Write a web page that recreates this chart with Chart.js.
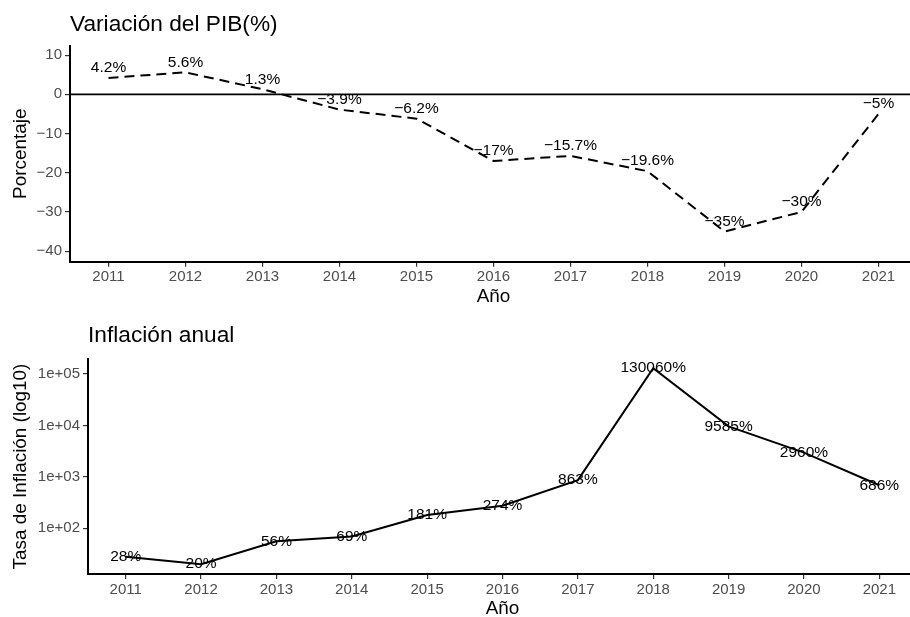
<!DOCTYPE html>
<html>
<head>
<meta charset="utf-8">
<script src="https://cdn.jsdelivr.net/npm/chart.js@4.4.1/dist/chart.umd.min.js"></script>
<style>
  html, body { margin: 0; padding: 0; background: #fff; width: 910px; height: 617px; overflow: hidden; }
  .panel { position: absolute; left: 0; width: 918px; }
  #pib-wrap { top: 0; height: 308px; }
  #inf-wrap { top: 308px; height: 312px; }
</style>
</head>
<body>
<div class="panel" id="pib-wrap"><canvas id="pib" width="918" height="308"></canvas></div>
<div class="panel" id="inf-wrap"><canvas id="inf" width="918" height="312"></canvas></div>
<script>
// Data
const years = ['2011', '2012', '2013', '2014', '2015', '2016', '2017', '2018', '2019', '2020', '2021']
const pibValues = [4.2, 5.6, 1.3, -3.9, -6.2, -17, -15.7, -19.6, -35, -30, -5]
const pibLabels = ['4.2%', '5.6%', '1.3%', '\u22123.9%', '\u22126.2%', '\u221217%', '\u221215.7%', '\u221219.6%', '\u221235%', '\u221230%', '\u22125%']
const pibTicks = [-40, -30, -20, -10, 0, 10]
const inflValues = [28, 20, 56, 69, 181, 274, 863, 130060, 9585, 2960, 686]
const inflLabels = ['28%', '20%', '56%', '69%', '181%', '274%', '863%', '130060%', '9585%', '2960%', '686%']
const inflTicks = [100, 1000, 10000, 100000]
const inflTickLabels = ['1e+02', '1e+03', '1e+04', '1e+05']

const FONT = '"Liberation Sans", Arial, Helvetica, sans-serif'

// text next to each point, placed from the dataset's own elements
const pointLabels = {
    id: 'pointLabels',
    afterDatasetsDraw(chart, args, opts) {
        const { ctx } = chart
        const meta = chart.getDatasetMeta(0)
        ctx.save()
        ctx.font = '15.5px ' + FONT
        ctx.fillStyle = '#000'
        ctx.textAlign = 'center'
        ctx.textBaseline = 'middle'
        meta.data.forEach((pt, i) => ctx.fillText(opts.labels[i], pt.x, pt.y - opts.dy))
        ctx.restore()
    }
}

// horizontal reference line at y = 0
const zeroLine = {
    id: 'zeroLine',
    beforeDatasetsDraw(chart, args, opts) {
        if (!opts.show) return
        const { ctx, chartArea } = chart
        const y = chart.scales.y.getPixelForValue(0)
        ctx.save()
        ctx.strokeStyle = '#000'
        ctx.lineWidth = 1.7
        ctx.beginPath()
        ctx.moveTo(chartArea.left, y)
        ctx.lineTo(chartArea.right, y)
        ctx.stroke()
        ctx.restore()
    }
}

function xScale(axisHeight) {
    return {
        type: 'category',
        offset: true,
        grid: { display: true, drawOnChartArea: false, drawTicks: true, tickLength: 5, color: '#333', lineWidth: 1.2 },
        border: { display: true, color: '#000', width: 2 },
        ticks: { color: '#4d4d4d', font: { family: FONT, size: 15 }, padding: 1.5, maxRotation: 0, autoSkip: false },
        title: { display: true, text: 'Año', color: '#000', font: { family: FONT, size: 18.9 }, padding: { top: 0, bottom: 0 } },
        afterFit: (s) => { s.height = axisHeight }
    }
}

function yScaleBase(axisWidth, titleText) {
    return {
        grid: { display: true, drawOnChartArea: false, drawTicks: true, tickLength: 5, color: '#333', lineWidth: 1.2 },
        border: { display: true, color: '#000', width: 2 },
        title: { display: true, text: titleText, color: '#000', font: { family: FONT, size: 18.9 }, padding: { top: 9.5, bottom: 0 } },
        afterFit: (s) => { s.width = axisWidth }
    }
}

function titleOpts(text, padTop, padBottom) {
    return {
        display: true, text: text, align: 'start', fullSize: false, color: '#000',
        font: { family: FONT, size: 22.7, weight: 'normal' },
        padding: { top: padTop, bottom: padBottom }
    }
}

// Top: PIB
new Chart(document.getElementById('pib'), {
    type: 'line',
    data: {
        labels: years,
        datasets: [{
            data: pibValues,
            borderColor: '#000',
            borderWidth: 2,
            borderDash: [10, 6],
            pointRadius: 0,
            tension: 0,
            fill: false
        }]
    },
    options: {
        responsive: false,
        animation: false,
        layout: { padding: { left: 0, right: 1, top: 0, bottom: 0 } },
        plugins: {
            legend: { display: false },
            tooltip: { enabled: false },
            title: titleOpts('Variación del PIB(%)', 11, 7.5),
            pointLabels: { labels: pibLabels, dy: 10 },
            zeroLine: { show: true }
        },
        scales: {
            x: xScale(46.3),
            y: {
                ...yScaleBase(70, 'Porcentaje'),
                type: 'linear',
                min: -42.7,
                max: 12.4,
                afterBuildTicks: (s) => { s.ticks = pibTicks.map(v => ({ value: v })) },
                ticks: {
                    color: '#4d4d4d', font: { family: FONT, size: 15 }, padding: 3,
                    callback: (v) => String(v).replace('-', '\u2212')
                }
            }
        }
    },
    plugins: [pointLabels, zeroLine]
})

// Bottom: inflation (log scale)
new Chart(document.getElementById('inf'), {
    type: 'line',
    data: {
        labels: years,
        datasets: [{
            data: inflValues,
            borderColor: '#000',
            borderWidth: 2,
            pointRadius: 0,
            tension: 0,
            fill: false
        }]
    },
    options: {
        responsive: false,
        animation: false,
        layout: { padding: { left: 0, right: 1, top: 0, bottom: 0 } },
        plugins: {
            legend: { display: false },
            tooltip: { enabled: false },
            title: titleOpts('Inflación anual', 14.4, 9.4),
            pointLabels: { labels: inflLabels, dy: 0 },
            zeroLine: { show: false }
        },
        scales: {
            x: xScale(46),
            y: {
                ...yScaleBase(88, 'Tasa de Inflación (log10)'),
                type: 'logarithmic',
                min: 12.9,
                max: 195800,
                afterBuildTicks: (s) => { s.ticks = inflTicks.map(v => ({ value: v })) },
                ticks: {
                    color: '#4d4d4d', font: { family: FONT, size: 15 }, padding: 3,
                    callback: (v) => inflTickLabels[inflTicks.indexOf(v)]
                }
            }
        }
    },
    plugins: [pointLabels, zeroLine]
})
</script>
</body>
</html>
